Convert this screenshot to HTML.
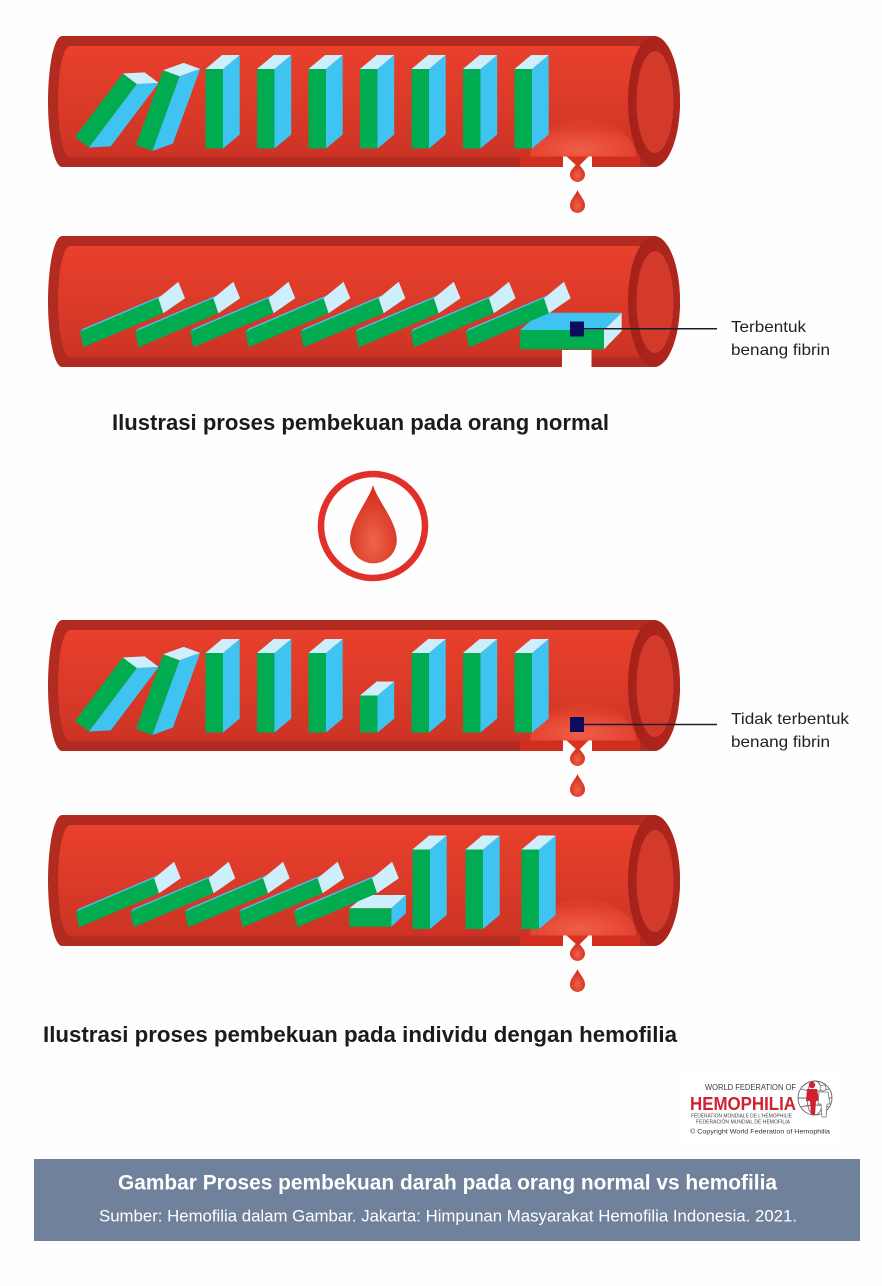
<!DOCTYPE html>
<html>
<head>
<meta charset="utf-8">
<style>
  html,body{margin:0;padding:0;background:#fefefe;}
  body{width:882px;height:1286px;overflow:hidden;}
  svg{display:block;}
  text{font-family:"Liberation Sans", Arial, sans-serif;}
</style>
</head>
<body>
<svg width="882" height="1286" viewBox="0 0 882 1286" xmlns="http://www.w3.org/2000/svg">
  <defs>
    <linearGradient id="vg" x1="0" y1="0" x2="0" y2="1">
      <stop offset="0" stop-color="#e8402c"/>
      <stop offset="0.45" stop-color="#dd3b29"/>
      <stop offset="1" stop-color="#cc3425"/>
    </linearGradient>
    <linearGradient id="ringg" x1="0" y1="0" x2="1" y2="0">
      <stop offset="0" stop-color="#a5211a"/>
      <stop offset="1" stop-color="#b0271e"/>
    </linearGradient>
    <radialGradient id="dome" cx="0.48" cy="0.8" r="0.65">
      <stop offset="0" stop-color="#ef5e46"/>
      <stop offset="0.55" stop-color="#e74b37"/>
      <stop offset="1" stop-color="#dc3c2a"/>
    </radialGradient>
    <radialGradient id="dropg" cx="0.5" cy="0.68" r="0.55">
      <stop offset="0" stop-color="#ef624b"/>
      <stop offset="1" stop-color="#d2301d"/>
    </radialGradient>
    <radialGradient id="bigdrop" cx="0.5" cy="0.72" r="0.6">
      <stop offset="0" stop-color="#f0634c"/>
      <stop offset="1" stop-color="#d5341f"/>
    </radialGradient>

    <g id="up">
      <rect x="0" y="-79.5" width="17.5" height="79.5" fill="#00ac4f"/>
      <polygon points="17.5,-79.5 34.2,-93.5 34.2,-14 17.5,0" fill="#3fc4f2"/>
      <polygon points="0,-79.5 17.5,-79.5 34.2,-93.5 16.7,-93.5" fill="#cdeefb"/>
    </g>
    <g id="short">
      <rect x="0" y="-37" width="17.5" height="37" fill="#00ac4f"/>
      <polygon points="17.5,-37 34.2,-51 34.2,-14 17.5,0" fill="#3fc4f2"/>
      <polygon points="0,-37 17.5,-37 34.2,-51 16.7,-51" fill="#cdeefb"/>
    </g>
    <g id="flat">
      <polygon points="0,0 3,-3 82.3,-36.7 78.3,-33.4" fill="#3fc4f2"/>
      <polygon points="0,0 3.3,15.6 83.3,-18.4 78.3,-33.4" fill="#00ac4f"/>
      <polygon points="78.3,-33.4 83.3,-18.4 105,-33.4 98.3,-50" fill="#cdeefb"/>
    </g>

    <g id="vessel">
      <path d="M62,0 H654 A26,65.5 0 0 1 654,131 H62 A14,65.5 0 0 1 62,0 Z" fill="#b22b20"/>
      <path d="M70,10 H646 V121 H70 A12,55.5 0 0 1 70,10 Z" fill="url(#vg)"/>
      <rect x="70" y="119" width="576" height="3" fill="#c63022" opacity="0.6"/>
      <ellipse cx="654" cy="65.5" rx="26" ry="65.5" fill="url(#ringg)"/>
      <ellipse cx="655" cy="66" rx="18.5" ry="51" fill="#d43a2a"/>
    </g>

    <g id="leak">
      <path d="M530,121 A53,37 0 0 1 636,121 Z" fill="url(#dome)"/>
      <rect x="520" y="120.5" width="120" height="10.5" fill="#d02f20"/>
      <rect x="563" y="120.5" width="29" height="12" fill="#fefefe"/>
      <polygon points="566.5,120.5 588.5,120.5 578,131" fill="#d8331f"/>
      <path d="M577.5,126 C579,130 585,133.5 585,138.5 A7.5,7.5 0 1 1 570,138.5 C570,133.5 576,130 577.5,126 Z" fill="url(#dropg)"/>
      <path d="M577.5,154 C579,158.5 585,163.5 585,169.5 A7.5,7.5 0 1 1 570,169.5 C570,163.5 576,158.5 577.5,154 Z" fill="url(#dropg)"/>
    </g>
  </defs>

  <!-- VESSEL 1 -->
  <use href="#vessel" transform="translate(0,36)"/>
  <use href="#leak" transform="translate(0,36)"/>
  <use href="#up" transform="translate(75,137) rotate(37)"/>
  <use href="#up" transform="translate(136,145) rotate(20)"/>
  <use href="#up" transform="translate(205.5,148.5)"/>
  <use href="#up" transform="translate(257,148.5)"/>
  <use href="#up" transform="translate(308.5,148.5)"/>
  <use href="#up" transform="translate(360,148.5)"/>
  <use href="#up" transform="translate(411.5,148.5)"/>
  <use href="#up" transform="translate(463,148.5)"/>
  <use href="#up" transform="translate(514.5,148.5)"/>

  <!-- VESSEL 2 -->
  <use href="#vessel" transform="translate(0,236)"/>
  <rect x="562" y="350" width="29.5" height="18" fill="#fefefe"/>
  <polygon points="520,330 604,330 621.7,312.7 540,312.7" fill="#3fc4f2"/>
  <rect x="520" y="330" width="84" height="19.3" fill="#00ac4f"/>
  <polygon points="604,330 621.7,312.7 621.7,331 604,349.3" fill="#cdeefb"/>
  <use href="#flat" transform="translate(80,331.7)"/>
  <use href="#flat" transform="translate(135.1,331.7)"/>
  <use href="#flat" transform="translate(190.2,331.7)"/>
  <use href="#flat" transform="translate(245.3,331.7)"/>
  <use href="#flat" transform="translate(300.4,331.7)"/>
  <use href="#flat" transform="translate(355.5,331.7)"/>
  <use href="#flat" transform="translate(410.6,331.7)"/>
  <use href="#flat" transform="translate(465.7,331.7)"/>
  <rect x="570" y="321.5" width="14" height="15" fill="#0c0c5c"/>
  <line x1="584" y1="328.7" x2="717" y2="328.7" stroke="#1c1c2c" stroke-width="1.5"/>
  <text x="731" y="332" font-size="16" fill="#222" textLength="75" lengthAdjust="spacingAndGlyphs">Terbentuk</text>
  <text x="731" y="355" font-size="16" fill="#222" textLength="99" lengthAdjust="spacingAndGlyphs">benang fibrin</text>

  <text x="112" y="430" font-size="22" font-weight="bold" fill="#1b1b1b" textLength="497" lengthAdjust="spacingAndGlyphs">Ilustrasi proses pembekuan pada orang normal</text>

  <circle cx="373" cy="526" r="52" fill="none" stroke="#e1302a" stroke-width="6.5"/>
  <path d="M373,485 C377,500 396.8,521 396.8,540 A23.4,23.4 0 1 1 350,540 C350,521 369,500 373,485 Z" fill="url(#bigdrop)"/>

  <!-- VESSEL 3 -->
  <use href="#vessel" transform="translate(0,620)"/>
  <use href="#leak" transform="translate(0,620)"/>
  <use href="#up" transform="translate(75,721) rotate(37)"/>
  <use href="#up" transform="translate(136,729) rotate(20)"/>
  <use href="#up" transform="translate(205.5,732.5)"/>
  <use href="#up" transform="translate(257,732.5)"/>
  <use href="#up" transform="translate(308.5,732.5)"/>
  <use href="#short" transform="translate(360,732.5)"/>
  <use href="#up" transform="translate(411.5,732.5)"/>
  <use href="#up" transform="translate(463,732.5)"/>
  <use href="#up" transform="translate(514.5,732.5)"/>
  <rect x="570" y="717" width="14" height="15" fill="#0c0c5c"/>
  <line x1="584" y1="724.5" x2="717" y2="724.5" stroke="#1c1c2c" stroke-width="1.5"/>
  <text x="731" y="724" font-size="16" fill="#222" textLength="118" lengthAdjust="spacingAndGlyphs">Tidak terbentuk</text>
  <text x="731" y="747" font-size="16" fill="#222" textLength="99" lengthAdjust="spacingAndGlyphs">benang fibrin</text>

  <!-- VESSEL 4 -->
  <use href="#vessel" transform="translate(0,815)"/>
  <use href="#leak" transform="translate(0,815)"/>
  <polygon points="349.3,908.3 366,895 406,895 391.4,908.3" fill="#cdeefb"/>
  <rect x="349.3" y="908.3" width="42.1" height="18.4" fill="#00ac4f"/>
  <polygon points="391.4,908.3 406,895 406,913 391.4,926.7" fill="#3fc4f2"/>
  <use href="#flat" transform="translate(75.8,911.7)"/>
  <use href="#flat" transform="translate(130.3,911.7)"/>
  <use href="#flat" transform="translate(184.8,911.7)"/>
  <use href="#flat" transform="translate(239.3,911.7)"/>
  <use href="#flat" transform="translate(293.8,911.7)"/>
  <use href="#up" transform="translate(412.5,929)"/>
  <use href="#up" transform="translate(465.5,929)"/>
  <use href="#up" transform="translate(521.5,929)"/>

  <text x="43" y="1042" font-size="22" font-weight="bold" fill="#1b1b1b" textLength="634" lengthAdjust="spacingAndGlyphs">Ilustrasi proses pembekuan pada individu dengan hemofilia</text>

  <!-- Logo -->
  <rect x="680" y="1073" width="162" height="72" fill="#ffffff"/>
  <text x="705" y="1090" font-size="8" fill="#3a3a3a" textLength="91" lengthAdjust="spacingAndGlyphs">WORLD FEDERATION OF</text>
  <text x="690" y="1110" font-size="18" font-weight="bold" fill="#d1202f" textLength="106" lengthAdjust="spacingAndGlyphs">HEMOPHILIA</text>
  <text x="691" y="1117.5" font-size="5" fill="#444" textLength="101" lengthAdjust="spacingAndGlyphs">FÉDÉRATION MONDIALE DE L'HÉMOPHILIE</text>
  <text x="696" y="1123.5" font-size="5" fill="#444" textLength="94" lengthAdjust="spacingAndGlyphs">FEDERACIÓN MUNDIAL DE HEMOFILIA</text>
  <text x="690" y="1133.5" font-size="6.5" fill="#333" textLength="140" lengthAdjust="spacingAndGlyphs">© Copyright World Federation of Hemophilia</text>
  <g fill="none" stroke="#666" stroke-width="0.9">
    <circle cx="815" cy="1098" r="17"/>
    <ellipse cx="815" cy="1098" rx="8" ry="17"/>
    <line x1="798" y1="1098" x2="832" y2="1098"/>
    <path d="M801,1089 Q815,1093 829,1089"/>
    <path d="M801,1107 Q815,1103 829,1107"/>
  </g>
  <g fill="#d1202f">
    <circle cx="812" cy="1085" r="3.2"/>
    <path d="M807,1089 L817,1089 L819,1101 L816,1101 L815,1115 L811,1115 L810,1101 L806,1101 Z"/>
  </g>
  <g fill="#fff" stroke="#777" stroke-width="0.8">
    <circle cx="823" cy="1088" r="3"/>
    <path d="M819,1092 L828,1092 L830,1104 L827,1104 L826,1117 L822,1117 L821,1104 L818,1104 Z"/>
  </g>

  <rect x="34" y="1159" width="826" height="82" fill="#6f819b"/>
  <text x="118" y="1189.5" font-size="21" font-weight="bold" fill="#ffffff" textLength="659" lengthAdjust="spacingAndGlyphs">Gambar Proses pembekuan darah pada orang normal vs hemofilia</text>
  <text x="99" y="1221.5" font-size="16.5" fill="#ffffff" textLength="698" lengthAdjust="spacingAndGlyphs">Sumber: Hemofilia dalam Gambar. Jakarta: Himpunan Masyarakat Hemofilia Indonesia. 2021.</text>
</svg>
</body>
</html>
